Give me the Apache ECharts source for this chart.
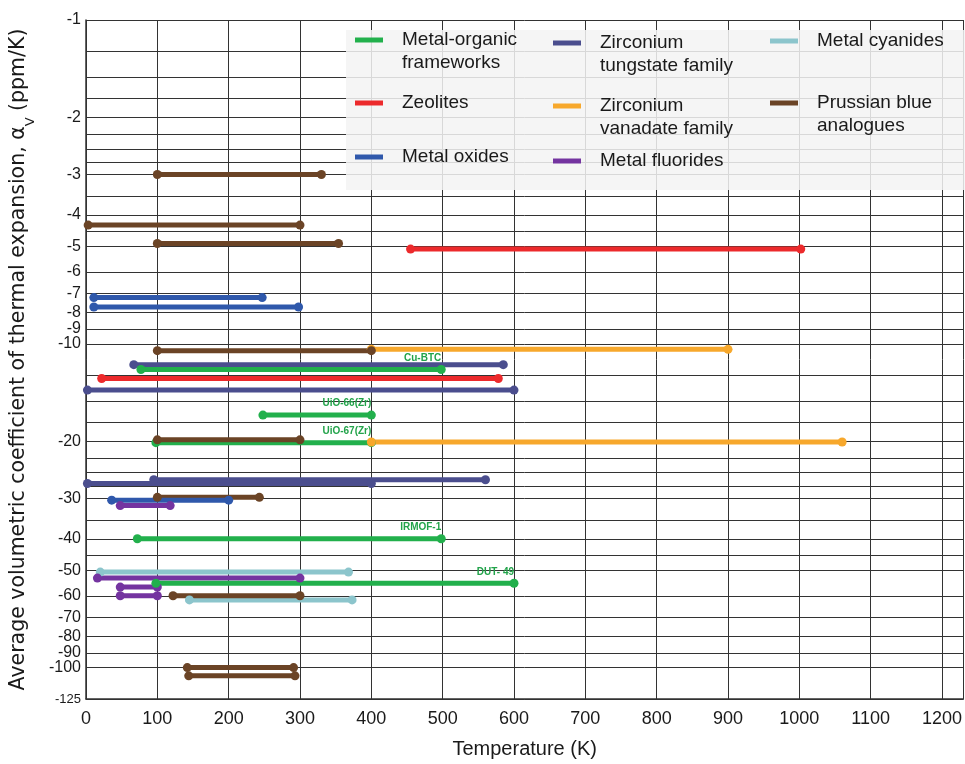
<!DOCTYPE html>
<html>
<head>
<meta charset="utf-8">
<script src="https://cdn.jsdelivr.net/npm/echarts@6/dist/echarts.min.js"></script>
<style>
  html, body { margin: 0; padding: 0; background: #fff; }
  #main { width: 965px; height: 764px; }
</style>
</head>
<body>
<div id="main"></div>
<script>
// bars are [T start (K), T end (K), alpha_V (ppm/K)]
const mofBars = [[77, 498, -12.0], [248, 400, -16.6], [98, 400, -20.2], [72, 498, -40], [98, 600, -54.9]];
const mofNames = ['Cu-BTC', 'UiO-66(Zr)', 'UiO-67(Zr)', 'IRMOF-1', 'DUT- 49'];
const zeoliteBars = [[455, 1002, -5.1], [22, 578, -12.8]];
const oxideBars = [[11, 247, -7.2], [11, 298, -7.7], [36, 200, -30.4]];
const tungstateBars = [[67, 585, -11.6], [2, 600, -13.9], [2, 400, -27.0], [95, 560, -26.3]];
const vanadateBars = [[400, 900, -10.4], [400, 1060, -20.1]];
const fluorideBars = [[48, 118, -31.6], [16, 300, -52.9], [48, 100, -56.4], [48, 100, -60]];
const cyanideBars = [[20, 368, -50.7], [145, 373, -61.8]];
const prussianBars = [[100, 330, -3.0], [3, 300, -4.3], [100, 354, -4.9], [100, 400, -10.5], [100, 300, -19.8],
  [100, 243, -29.8], [122, 300, -60], [142, 291, -100], [144, 293, -106]];

const yTickLabels = [1, 2, 3, 4, 5, 6, 7, 8, 9, 10, 20, 30, 40, 50, 60, 70, 80, 90, 100, 125];
const yGridValues = [1, 1.25, 1.5, 1.75, 2, 2.25, 2.5, 2.75, 3, 3.5, 4, 4.5, 5, 6, 7, 8, 9, 10, 12.5, 15, 17.5,
  20, 22.5, 25, 27.5, 30, 35, 40, 45, 50, 60, 70, 80, 90, 100, 125];

const groups = [
  { name: 'Metal cyanides', bars: cyanideBars, color: '#8cc5cc' },
  { name: 'Metal fluorides', bars: fluorideBars, color: '#7434a0' },
  { name: 'Zirconium tungstate family', bars: tungstateBars, color: '#4b4e8e' },
  { name: 'Zeolites', bars: zeoliteBars, color: '#ec2a2c' },
  { name: 'Metal-organic frameworks', bars: mofBars, color: '#22b04c', labels: mofNames },
  { name: 'Zirconium vanadate family', bars: vanadateBars, color: '#f7a82c' },
  { name: 'Prussian blue analogues', bars: prussianBars, color: '#6b4426' },
  { name: 'Metal oxides', bars: oxideBars, color: '#2f58ab' }
];

const legendText = {
  'Metal-organic frameworks': 'Metal-organic\nframeworks',
  'Zeolites': 'Zeolites',
  'Metal oxides': 'Metal oxides',
  'Zirconium tungstate family': 'Zirconium\ntungstate family',
  'Zirconium vanadate family': 'Zirconium\nvanadate family',
  'Metal fluorides': 'Metal fluorides',
  'Metal cyanides': 'Metal cyanides',
  'Prussian blue analogues': 'Prussian blue\nanalogues'
};
// legend icon left x, icon centre y
const legendSpots = [
  ['Metal-organic frameworks', 355, 40],
  ['Zeolites', 355, 103],
  ['Metal oxides', 355, 157],
  ['Zirconium tungstate family', 553, 43],
  ['Zirconium vanadate family', 553, 106],
  ['Metal fluorides', 553, 161],
  ['Metal cyanides', 770, 41],
  ['Prussian blue analogues', 770, 103]
];

const SANS = 'Liberation Sans, Arial, sans-serif';
const NARROW = 'Liberation Sans Narrow, Arial Narrow, sans-serif';

let series = [];
groups.forEach(function (g) {
  g.bars.forEach(function (b, i) {
    const endPoint = { value: [b[1], Math.abs(b[2])] };
    if (g.labels) {
      endPoint.label = {
        show: true,
        formatter: g.labels[i],
        position: 'top',
        align: 'right',
        distance: 2,
        color: '#22a34a',
        fontSize: 10,
        fontWeight: 'bold',
        fontFamily: SANS
      };
    }
    series.push({
      name: g.name,
      type: 'line',
      data: [[b[0], Math.abs(b[2])], endPoint],
      symbol: 'circle',
      symbolSize: 9,
      showSymbol: true,
      color: g.color,
      lineStyle: { width: 5, color: g.color, cap: 'round' },
      itemStyle: { color: g.color },
      emphasis: { disabled: true },
      z: 3
    });
  });
});

// two-line entries get a blank first line so the icon sits beside the first text line
let legends = legendSpots.map(function (s) {
  const twoLine = legendText[s[0]].indexOf('\n') >= 0;
  return {
    data: [{ name: s[0], icon: 'rect' }],
    left: s[1],
    top: s[2] - (twoLine ? 34.5 : 11.5),
    orient: 'vertical',
    padding: 0,
    itemWidth: 28,
    itemHeight: 5,
    selectedMode: false,
    formatter: function (n) { return twoLine ? ' \n' + legendText[n] : legendText[n]; },
    textStyle: { fontFamily: SANS, fontSize: 19, color: '#1a1a1a', lineHeight: 23, padding: [0, 0, 0, 14] },
    z: 10
  };
});

const chart = echarts.init(document.getElementById('main'));
chart.setOption({
  animation: false,
  backgroundColor: '#fff',
  grid: { left: 85, right: 0, top: 20, bottom: 62, containLabel: false },
  graphic: [{
    type: 'rect',
    shape: { x: 346, y: 30, width: 640, height: 160 },
    style: { fill: 'rgba(243,243,243,0.86)' },
    z: 5
  }],
  legend: legends,
  xAxis: {
    type: 'value',
    min: 0,
    max: 1230,
    interval: 100,
    name: 'Temperature (K)',
    nameLocation: 'middle',
    nameGap: 40,
    nameTextStyle: { fontFamily: NARROW, fontSize: 20, color: '#1a1a1a' },
    axisLine: { show: true, lineStyle: { color: '#333', width: 1.5 } },
    axisTick: { show: false },
    axisLabel: {
      fontFamily: NARROW, fontSize: 18, color: '#1a1a1a', margin: 11, showMaxLabel: false,
      formatter: function (v) { return String(v); }
    },
    splitLine: { show: true, lineStyle: { color: '#333', width: 1 } }
  },
  yAxis: {
    type: 'log',
    logBase: 10,
    inverse: true,
    min: 1,
    max: 125,
    name: 'Average volumetric coefficient of thermal expansion, α{sub|V} (ppm/K)',
    nameLocation: 'middle',
    nameGap: 57,
    nameTextStyle: {
      fontFamily: 'DejaVu Sans, sans-serif', fontSize: 20.5, color: '#1a1a1a',
      rich: { sub: { fontFamily: 'DejaVu Sans, sans-serif', fontSize: 13, verticalAlign: 'bottom', padding: [0, 0, -8, 0], color: '#1a1a1a' } }
    },
    axisLine: { show: true, lineStyle: { color: '#333', width: 1.5 } },
    axisTick: { show: false, customValues: yGridValues },
    axisLabel: {
      customValues: yTickLabels,
      fontFamily: SANS,
      fontSize: 16,
      color: '#1a1a1a',
      margin: 5,
      formatter: function (v) {
        const r = Math.round(v * 100) / 100;
        return r === 125 ? '{s|-125}' : '-' + r;
      },
      rich: { s: { fontFamily: SANS, fontSize: 13, color: '#1a1a1a' } }
    },
    splitLine: { show: true, lineStyle: { color: '#333', width: 1 } }
  },
  series: series
});
</script>
</body>
</html>
